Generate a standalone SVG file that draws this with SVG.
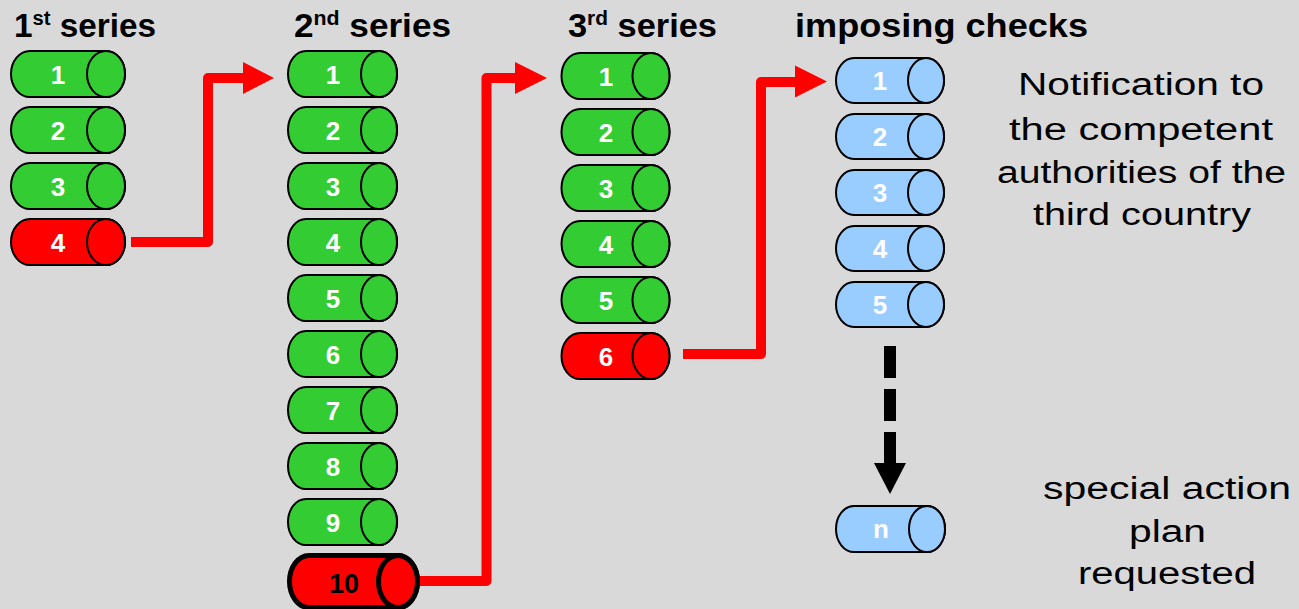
<svg xmlns="http://www.w3.org/2000/svg" width="1299" height="609" viewBox="0 0 1299 609">
<defs>
<style>
.g{fill:#33cc33;stroke:#000;stroke-width:2}
.r{fill:#ff0000;stroke:#000;stroke-width:2}
.b{fill:#99ccff;stroke:#000;stroke-width:2}
.num{font-family:"Liberation Sans",Arial,sans-serif;font-weight:bold;font-size:26px;fill:#fff;text-anchor:middle}
.hd{font-family:"Liberation Sans",Arial,sans-serif;font-weight:bold;font-size:33px;fill:#000}
.sup{font-size:20px}
.note{font-family:"Liberation Sans",Arial,sans-serif;font-size:31px;fill:#000;text-anchor:middle}
.red{fill:none;stroke:#ff0000;stroke-width:10;stroke-linejoin:round}
</style>
</defs>
<rect width="1299" height="609" fill="#d9d9d9"/>

<g id="headings">
<text class="hd" x="14" y="37" textLength="142" lengthAdjust="spacingAndGlyphs">1<tspan class="sup" dy="-12">st</tspan><tspan dy="12"> series</tspan></text>
<text class="hd" x="294" y="37" textLength="157" lengthAdjust="spacingAndGlyphs">2<tspan class="sup" dy="-12">nd</tspan><tspan dy="12"> series</tspan></text>
<text class="hd" x="568" y="37" textLength="149" lengthAdjust="spacingAndGlyphs">3<tspan class="sup" dy="-12">rd</tspan><tspan dy="12"> series</tspan></text>
<text class="hd" x="795" y="37" textLength="293" lengthAdjust="spacingAndGlyphs">imposing checks</text>
</g>

<!-- 1st series -->
<g id="s1-1"><path class="g" d="M30,51H106A19,23 0 0 1 106,97H30A19,23 0 0 1 30,51Z"/><ellipse class="g" cx="106" cy="74" rx="19" ry="23"/><text class="num" x="58" y="83.5">1</text></g>
<g id="s1-2"><path class="g" d="M30,107H106A19,23 0 0 1 106,153H30A19,23 0 0 1 30,107Z"/><ellipse class="g" cx="106" cy="130" rx="19" ry="23"/><text class="num" x="58" y="139.5">2</text></g>
<g id="s1-3"><path class="g" d="M30,163H106A19,23 0 0 1 106,209H30A19,23 0 0 1 30,163Z"/><ellipse class="g" cx="106" cy="186" rx="19" ry="23"/><text class="num" x="58" y="195.5">3</text></g>
<g id="s1-4"><path class="r" d="M30,219H106A19,23 0 0 1 106,265H30A19,23 0 0 1 30,219Z"/><ellipse class="r" cx="106" cy="242" rx="19" ry="23"/><text class="num" x="58" y="251.5">4</text></g>

<!-- 2nd series -->
<g id="s2-1"><path class="g" d="M306,51H379A18,23 0 0 1 379,97H306A18,23 0 0 1 306,51Z"/><ellipse class="g" cx="379" cy="74" rx="18" ry="23"/><text class="num" x="333" y="83.5">1</text></g>
<g id="s2-2"><path class="g" d="M306,107H379A18,23 0 0 1 379,153H306A18,23 0 0 1 306,107Z"/><ellipse class="g" cx="379" cy="130" rx="18" ry="23"/><text class="num" x="333" y="139.5">2</text></g>
<g id="s2-3"><path class="g" d="M306,163H379A18,23 0 0 1 379,209H306A18,23 0 0 1 306,163Z"/><ellipse class="g" cx="379" cy="186" rx="18" ry="23"/><text class="num" x="333" y="195.5">3</text></g>
<g id="s2-4"><path class="g" d="M306,219H379A18,23 0 0 1 379,265H306A18,23 0 0 1 306,219Z"/><ellipse class="g" cx="379" cy="242" rx="18" ry="23"/><text class="num" x="333" y="251.5">4</text></g>
<g id="s2-5"><path class="g" d="M306,275H379A18,23 0 0 1 379,321H306A18,23 0 0 1 306,275Z"/><ellipse class="g" cx="379" cy="298" rx="18" ry="23"/><text class="num" x="333" y="307.5">5</text></g>
<g id="s2-6"><path class="g" d="M306,331H379A18,23 0 0 1 379,377H306A18,23 0 0 1 306,331Z"/><ellipse class="g" cx="379" cy="354" rx="18" ry="23"/><text class="num" x="333" y="363.5">6</text></g>
<g id="s2-7"><path class="g" d="M306,387H379A18,23 0 0 1 379,433H306A18,23 0 0 1 306,387Z"/><ellipse class="g" cx="379" cy="410" rx="18" ry="23"/><text class="num" x="333" y="419.5">7</text></g>
<g id="s2-8"><path class="g" d="M306,443H379A18,23 0 0 1 379,489H306A18,23 0 0 1 306,443Z"/><ellipse class="g" cx="379" cy="466" rx="18" ry="23"/><text class="num" x="333" y="475.5">8</text></g>
<g id="s2-9"><path class="g" d="M306,499H379A18,23 0 0 1 379,545H306A18,23 0 0 1 306,499Z"/><ellipse class="g" cx="379" cy="522" rx="18" ry="23"/><text class="num" x="333" y="531.5">9</text></g>
<g id="s2-10"><path class="r" style="stroke-width:5" d="M309,555.5H398A19.5,26 0 0 1 398,607.5H309A19.5,26 0 0 1 309,555.5Z"/><ellipse class="r" style="stroke-width:5" cx="398" cy="581.5" rx="19.5" ry="26"/><text class="num" x="344" y="593" style="fill:#000;font-size:27px">10</text></g>

<!-- 3rd series -->
<g id="s3-1"><path class="g" d="M580,53H651A18.5,23 0 0 1 651,99H580A18.5,23 0 0 1 580,53Z"/><ellipse class="g" cx="651" cy="76" rx="18.5" ry="23"/><text class="num" x="606" y="85.5">1</text></g>
<g id="s3-2"><path class="g" d="M580,109H651A18.5,23 0 0 1 651,155H580A18.5,23 0 0 1 580,109Z"/><ellipse class="g" cx="651" cy="132" rx="18.5" ry="23"/><text class="num" x="606" y="141.5">2</text></g>
<g id="s3-3"><path class="g" d="M580,165H651A18.5,23 0 0 1 651,211H580A18.5,23 0 0 1 580,165Z"/><ellipse class="g" cx="651" cy="188" rx="18.5" ry="23"/><text class="num" x="606" y="197.5">3</text></g>
<g id="s3-4"><path class="g" d="M580,221H651A18.5,23 0 0 1 651,267H580A18.5,23 0 0 1 580,221Z"/><ellipse class="g" cx="651" cy="244" rx="18.5" ry="23"/><text class="num" x="606" y="253.5">4</text></g>
<g id="s3-5"><path class="g" d="M580,277H651A18.5,23 0 0 1 651,323H580A18.5,23 0 0 1 580,277Z"/><ellipse class="g" cx="651" cy="300" rx="18.5" ry="23"/><text class="num" x="606" y="309.5">5</text></g>
<g id="s3-6"><path class="r" d="M580,333H651A18.5,23 0 0 1 651,379H580A18.5,23 0 0 1 580,333Z"/><ellipse class="r" cx="651" cy="356" rx="18.5" ry="23"/><text class="num" x="606" y="365.5">6</text></g>

<!-- imposing checks -->
<g id="c-1"><path class="b" d="M854,58H926A18,22.5 0 0 1 926,103H854A18,22.5 0 0 1 854,58Z"/><ellipse class="b" cx="926" cy="80.5" rx="18" ry="22.5"/><text class="num" x="880" y="90">1</text></g>
<g id="c-2"><path class="b" d="M854,114H926A18,22.5 0 0 1 926,159H854A18,22.5 0 0 1 854,114Z"/><ellipse class="b" cx="926" cy="136.5" rx="18" ry="22.5"/><text class="num" x="880" y="146">2</text></g>
<g id="c-3"><path class="b" d="M854,170H926A18,22.5 0 0 1 926,215H854A18,22.5 0 0 1 854,170Z"/><ellipse class="b" cx="926" cy="192.5" rx="18" ry="22.5"/><text class="num" x="880" y="202">3</text></g>
<g id="c-4"><path class="b" d="M854,226H926A18,22.5 0 0 1 926,271H854A18,22.5 0 0 1 854,226Z"/><ellipse class="b" cx="926" cy="248.5" rx="18" ry="22.5"/><text class="num" x="880" y="258">4</text></g>
<g id="c-5"><path class="b" d="M854,282H926A18,22.5 0 0 1 926,327H854A18,22.5 0 0 1 854,282Z"/><ellipse class="b" cx="926" cy="304.5" rx="18" ry="22.5"/><text class="num" x="880" y="314">5</text></g>
<g id="c-n"><path class="b" d="M854,506H927A18,23 0 0 1 927,552H854A18,23 0 0 1 854,506Z"/><ellipse class="b" cx="927" cy="529" rx="18" ry="23"/><text class="num" x="881" y="538">n</text></g>

<!-- connectors -->
<g id="connectors">
<polyline class="red" points="131,242 208,242 208,78 245,78"/>
<polygon fill="#ff0000" points="243,62 274,78 243,94"/>
<polyline class="red" points="420,581 486.5,581 486.5,78 517,78"/>
<polygon fill="#ff0000" points="515,62 547,78 515,94"/>
<polyline class="red" points="683,354 761,354 761,82 797,82"/>
<polygon fill="#ff0000" points="795,65.5 827,81.5 795,97.5"/>
<line x1="890" y1="346" x2="890" y2="465" stroke="#000" stroke-width="12" stroke-dasharray="32 11"/>
<polygon fill="#000" points="874,463 906,463 890,494"/>
</g>

<g id="notes">
<text class="note" x="1141" y="95" textLength="246" lengthAdjust="spacingAndGlyphs">Notification to</text>
<text class="note" x="1141" y="140" textLength="264" lengthAdjust="spacingAndGlyphs">the competent</text>
<text class="note" x="1141.5" y="183" textLength="289" lengthAdjust="spacingAndGlyphs">authorities of the</text>
<text class="note" x="1142" y="225" textLength="218" lengthAdjust="spacingAndGlyphs">third country</text>
<text class="note" x="1167" y="499" textLength="248" lengthAdjust="spacingAndGlyphs">special action</text>
<text class="note" x="1167.5" y="542" textLength="77" lengthAdjust="spacingAndGlyphs">plan</text>
<text class="note" x="1167" y="584" textLength="178" lengthAdjust="spacingAndGlyphs">requested</text>
</g>
</svg>
